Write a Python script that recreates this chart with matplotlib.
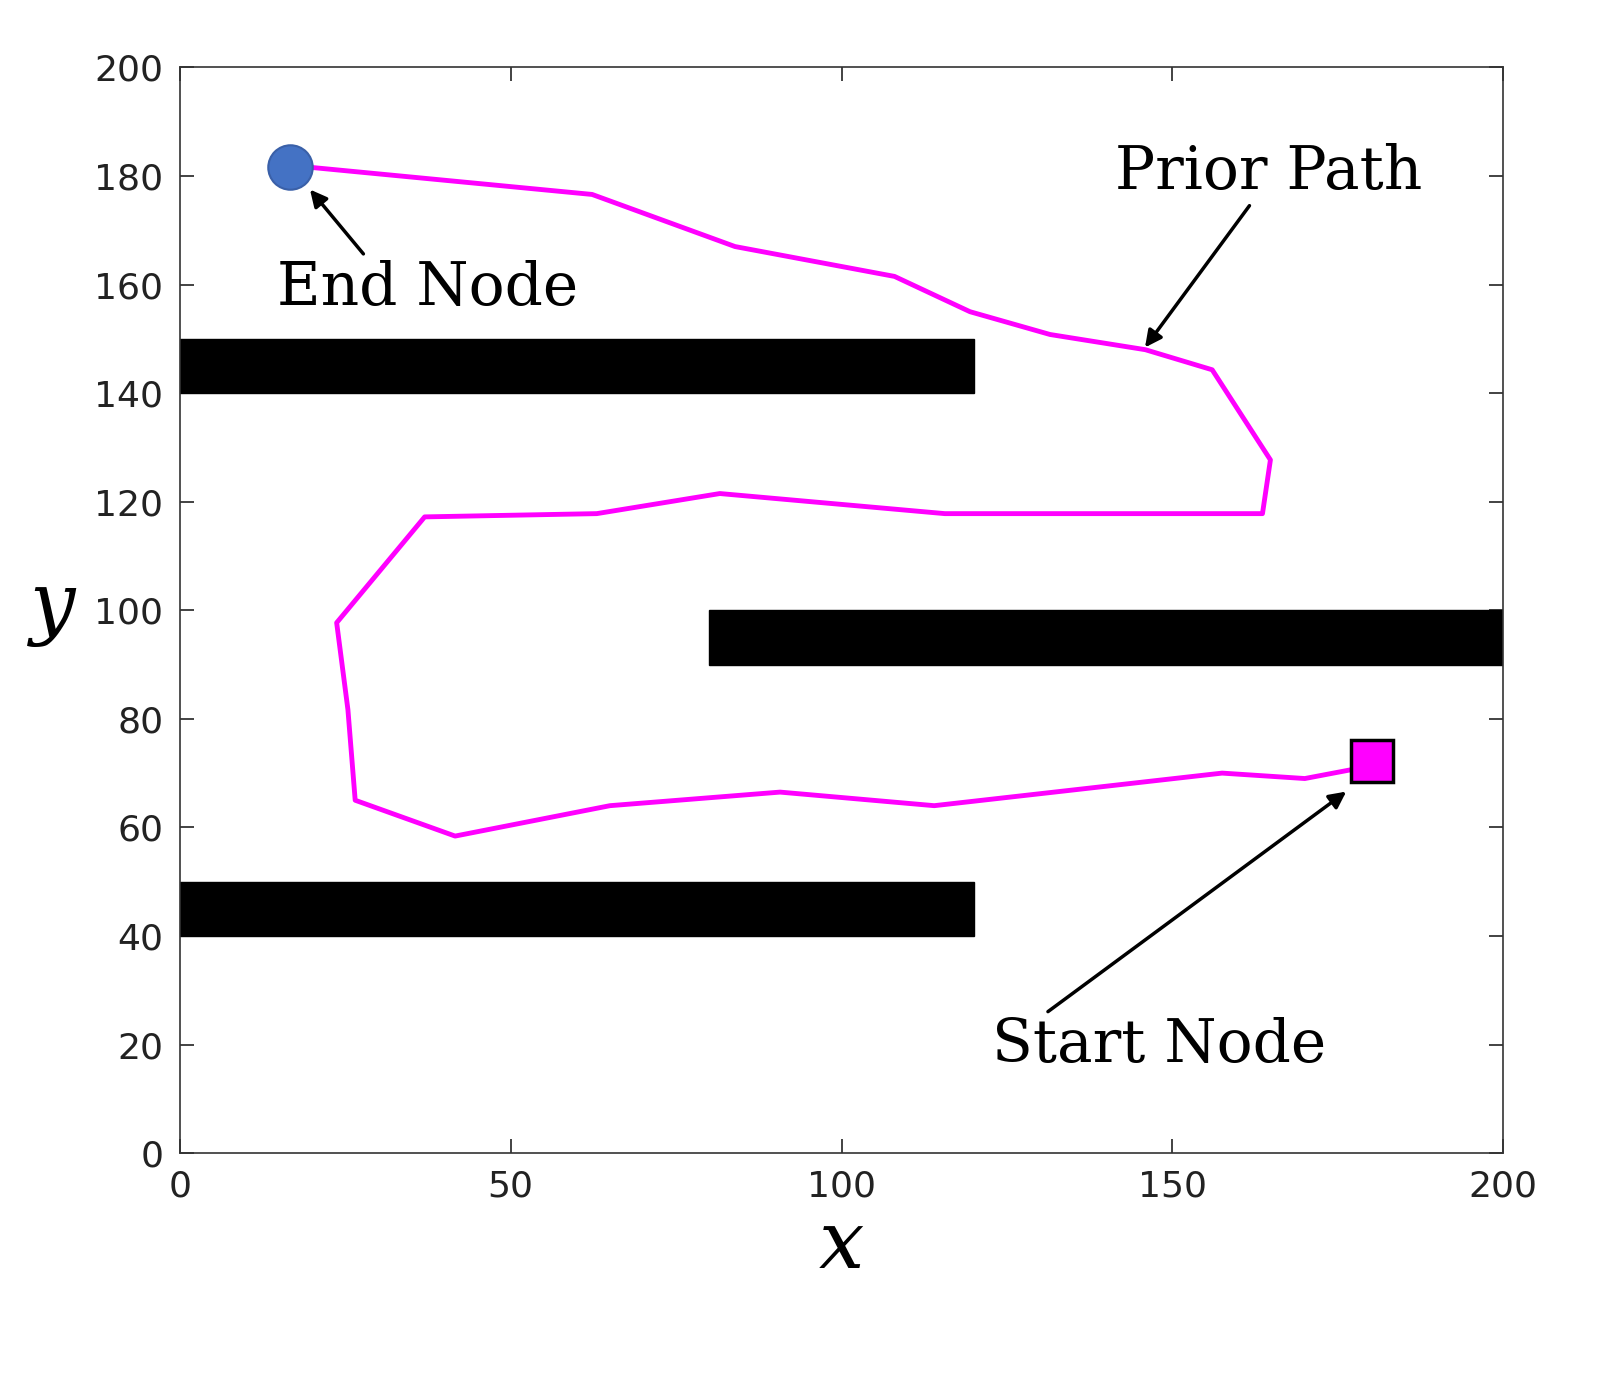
import numpy as np
import matplotlib
matplotlib.use("Agg")
import matplotlib.pyplot as plt
from matplotlib.patches import Rectangle

plt.rcParams['mathtext.fontset'] = 'dejavuserif'

# path from start node to end node
path_x = [180.2, 176.9, 170.0, 157.5, 114.0, 90.7, 65.0, 41.6, 26.5, 25.4, 23.7, 37.0,
          63.0, 81.6, 115.6, 163.6, 164.8, 156.0, 145.9, 131.5, 119.4, 108.0, 83.9, 62.3, 19.7, 16.6]
path_y = [72.3, 70.6, 69.0, 70.0, 64.0, 66.5, 64.0, 58.4, 65.0, 81.7, 97.7, 117.2,
          117.8, 121.5, 117.8, 117.8, 127.7, 144.3, 148.0, 150.8, 155.0, 161.5, 167.0, 176.6, 181.6, 181.6]

start_node = (180.2, 72.3)
end_node = (16.6, 181.6)

# obstacles: (x0, y0, width, height)
obstacles = [(0, 140, 120, 10), (80, 90, 120, 10), (0, 40, 120, 10)]

fig = plt.figure(figsize=(16.2, 13.76), dpi=100)
ax = fig.add_axes([0.111, 0.162, 0.817, 0.789])

for (x0, y0, w, h) in obstacles:
    ax.add_patch(Rectangle((x0, y0), w, h, color='black', zorder=2))

ax.plot(path_x, path_y, color='#ff00ff', lw=3.5, zorder=3)
ax.plot(*start_node, marker='s', ms=30, mfc='#ff00ff', mec='black', mew=2.5, zorder=4)
ax.plot(*end_node, marker='o', ms=32, mfc='#4472c4', mec='#3a60a8', mew=1.5, zorder=4)

tf = dict(family='DejaVu Serif', fontsize=43)
aprops = dict(arrowstyle='-|>', color='black', lw=2.5, mutation_scale=25)
ax.annotate('End Node', xy=(19.4, 177.9), xytext=(14.7, 159.4), va='center', ha='left',
            arrowprops=dict(aprops, relpos=(0.3, 1.0)), **tf)
ax.annotate('Prior Path', xy=(145.6, 148.0), xytext=(141.3, 180.8), va='center', ha='left',
            arrowprops=dict(aprops, relpos=(0.45, 0.0)), **tf)
ax.annotate('Start Node', xy=(176.6, 66.9), xytext=(122.7, 19.9), va='center', ha='left',
            arrowprops=dict(aprops, relpos=(0.15, 1.0)), **tf)

ax.set_xlim(0, 200)
ax.set_ylim(0, 200)
ax.set_xticks(np.arange(0, 201, 50))
ax.set_yticks(np.arange(0, 201, 20))
ax.tick_params(direction='in', length=10, width=1.2, top=True, right=True,
               labelsize=26, colors='#222222', pad=12)
for s in ax.spines.values():
    s.set_linewidth(1.2)
    s.set_color('#333333')

ax.set_xlabel('$x$', fontsize=58, labelpad=2)
ax.set_ylabel('$y$', fontsize=58, rotation=0, labelpad=30, va='center')

fig.savefig('out.png', dpi=100)
